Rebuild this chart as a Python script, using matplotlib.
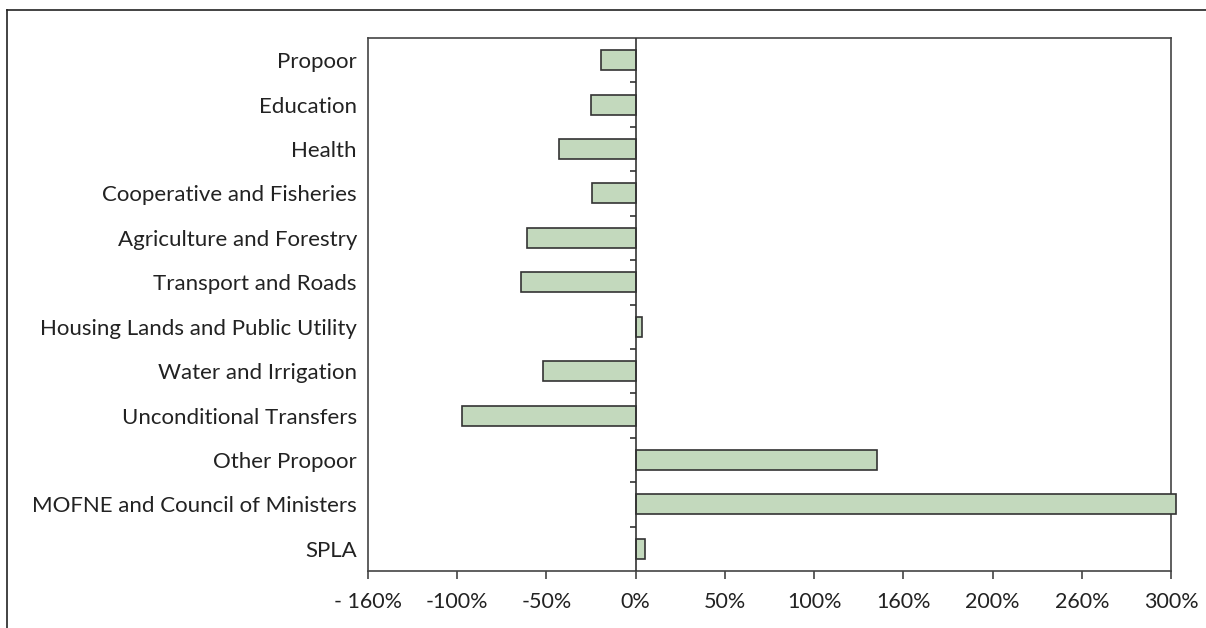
import matplotlib
matplotlib.use("Agg")
import matplotlib.pyplot as plt
from matplotlib.lines import Line2D
import numpy as np

categories = ["Propoor", "Education", "Health", "Cooperative and Fisheries",
              "Agriculture and Forestry", "Transport and Roads",
              "Housing Lands and Public Utility", "Water and Irrigation",
              "Unconditional Transfers", "Other Propoor",
              "MOFNE and Council of Ministers", "SPLA"]
changes = [-19.2, -24.9, -43.0, -24.5, -60.8, -64.5, 3.6, -52.2, -97.6, 135.2, 303.0, 5.2]

xtick_values = [-150, -100, -50, 0, 50, 100, 150, 200, 250, 300]
xtick_labels = ["- 160%", "-100%", "-50%", "0%", "50%", "100%", "160%", "200%", "260%", "300%"]

plt.rcParams['font.family'] = ['Lato', 'DejaVu Sans']

fig = plt.figure(figsize=(12.06, 6.28), dpi=100)
ax = fig.add_axes([368 / 1206, 1 - 571 / 628, (1171 - 368) / 1206, (571 - 38) / 628])

y = np.arange(len(categories))
bars = ax.barh(y, changes, height=0.45, color="#c3d9bd", edgecolor="#333333", linewidth=1.2, zorder=3)
for b in bars:
    b.set_clip_on(False)

# vertical axis at zero with tick marks between categories
ax.axvline(0, color="#333333", linewidth=1.2, zorder=4)
bounds = np.arange(len(categories) - 1) + 0.5
ax.plot(np.zeros(len(bounds)), bounds, linestyle="none", marker=0, markersize=4.5,
        markeredgewidth=1.2, color="#333333", zorder=4, clip_on=False)

ax.set_xlim(-150, 300)
ax.set_ylim(len(categories) - 0.5, -0.5)
ax.set_yticks(y)
ax.set_yticklabels(categories, fontsize=16, color="#222222")
ax.tick_params(axis="y", length=0, pad=8)
ax.set_xticks(xtick_values)
ax.set_xticklabels(xtick_labels, fontsize=15.5, color="#222222")
ax.tick_params(axis="x", length=6, width=1.2, color="#444444", pad=9)

for s in ax.spines.values():
    s.set_color("#444444")
    s.set_linewidth(1.2)

# partial outer frame
fig.add_artist(Line2D([7 / 1206, 1.0], [1 - 10 / 628, 1 - 10 / 628], color="#222222", linewidth=1.2))
fig.add_artist(Line2D([7 / 1206, 7 / 1206], [0.0, 1 - 10 / 628], color="#222222", linewidth=1.2))

fig.savefig("out.png", dpi=100)
